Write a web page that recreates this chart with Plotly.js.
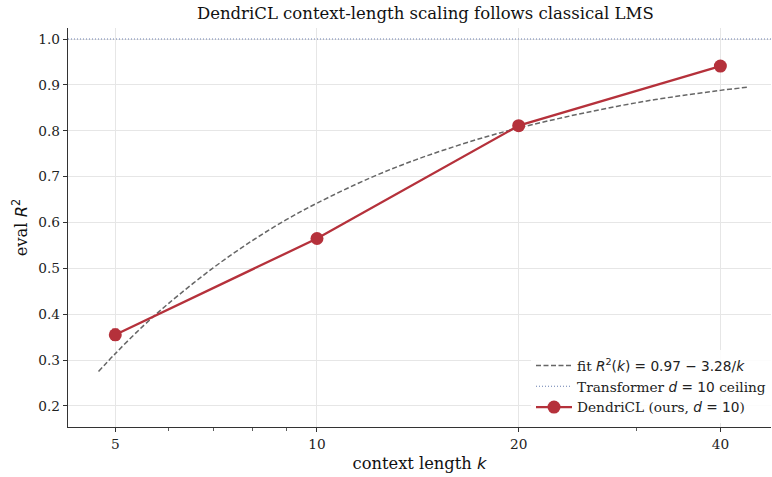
<!DOCTYPE html>
<html>
<head>
<meta charset="utf-8">
<script src="https://cdn.plot.ly/plotly-3.0.1.min.js"></script>
<style>html,body{margin:0;padding:0;background:#fff}#chart{width:772px;height:477px}</style>
</head>
<body>
<div id="chart"></div>
<script>
// Measured DendriCL results
const contextK = [5, 10, 20, 40];
const evalR2 = [0.355, 0.565, 0.811, 0.941];
const evalR2Err = [0.012, 0.006, 0.006, 0.006];

// Fit curve R^2(k) = 0.97 - 3.28/k
const fitK = [4.72, 5, 5.5, 6, 7, 8, 9, 10, 12, 14, 16, 18, 20, 24, 28, 32, 36, 40, 44];
const fitR2 = [0.275, 0.314, 0.374, 0.423, 0.501, 0.560, 0.606, 0.642, 0.697, 0.736, 0.765, 0.788, 0.806, 0.833, 0.853, 0.868, 0.879, 0.888, 0.895];

// Transformer ceiling
const ceilingR2 = 1.0;

// Axis settings
const xTicks = [5, 10, 20, 40];
const xMinorTicks = [6, 7, 8, 9, 30];
const xSpan = [4.25, 47.6];
const yTicks = [0.2, 0.3, 0.4, 0.5, 0.6, 0.7, 0.8, 0.9, 1.0];
const yTickText = yTicks.map(v => v.toFixed(1));

const serif = "DejaVu Serif, serif";
const red = "#b5313b";

const traces = [
  {
    x: fitK, y: fitR2, mode: "lines", type: "scatter",
    name: 'fit <span style="font-family:DejaVu Sans"><i>R</i><sup>2</sup>(<i>k</i>) = 0.97 − 3.28/<i>k</i></span>',
    line: {color: "#666666", width: 1.5, dash: "5px,2.5px", shape: "spline", smoothing: 1},
    hoverinfo: "skip"
  },
  {
    x: xSpan, y: [ceilingR2, ceilingR2], mode: "lines", type: "scatter",
    name: 'Transformer <span style="font-family:DejaVu Sans"><i>d</i> = 10</span> ceiling',
    line: {color: "#6a7fb0", width: 1.1, dash: "1px,2px"},
    hoverinfo: "skip"
  },
  {
    x: contextK, y: evalR2, mode: "lines+markers", type: "scatter",
    name: 'DendriCL (ours, <span style="font-family:DejaVu Sans"><i>d</i> = 10</span>)',
    line: {color: red, width: 2.3},
    marker: {color: red, size: 13},
    error_y: {type: "data", array: evalR2Err, visible: true, color: red, thickness: 1.5, width: 3}
  }
];

const layout = {
  width: 772, height: 477,
  margin: {l: 68, r: 1, t: 28, b: 50},
  paper_bgcolor: "#ffffff", plot_bgcolor: "#ffffff",
  font: {family: serif, size: 13, color: "#222222"},
  title: {
    text: "DendriCL context-length scaling follows classical LMS",
    font: {family: serif, size: 16.5, color: "#111111"},
    x: 0.551, xanchor: "center", y: 0.972, yanchor: "middle"
  },
  showlegend: true,
  legend: {
    x: 1.0, y: 0.01, xanchor: "right", yanchor: "bottom",
    bgcolor: "rgba(255,255,255,0.85)", borderwidth: 0,
    font: {family: serif, size: 13.7, color: "#222222"},
    tracegroupgap: 0, itemwidth: 36
  },
  xaxis: {
    type: "log",
    range: [Math.log10(xSpan[0]), Math.log10(xSpan[1])],
    tickmode: "array", tickvals: xTicks, ticktext: xTicks.map(String),
    ticks: "outside", ticklen: 4, tickwidth: 1, tickcolor: "#333333",
    showline: true, linecolor: "#333333", linewidth: 1.3, mirror: false,
    showgrid: true, gridcolor: "#e6e6e6", gridwidth: 1, zeroline: false,
    tickfont: {family: serif, size: 13.7, color: "#222222"},
    minor: {tickvals: xMinorTicks, ticks: "outside", ticklen: 2.5, tickwidth: 0.8, tickcolor: "#333333", showgrid: false},
    title: {text: 'context length <span style="font-family:DejaVu Sans"><i>k</i></span>', font: {family: serif, size: 16.3, color: "#111111"}, standoff: 6}
  },
  yaxis: {
    range: [0.154, 1.024],
    tickmode: "array", tickvals: yTicks, ticktext: yTickText,
    ticks: "outside", ticklen: 4, tickwidth: 1, tickcolor: "#333333",
    showline: true, linecolor: "#333333", linewidth: 1.3, mirror: false,
    showgrid: true, gridcolor: "#e6e6e6", gridwidth: 1, zeroline: false,
    tickfont: {family: serif, size: 13.7, color: "#222222"},
    title: {text: 'eval <span style="font-family:DejaVu Sans"><i>R</i><sup>2</sup></span>', font: {family: serif, size: 16.3, color: "#111111"}, standoff: 6}
  }
};

Plotly.newPlot("chart", traces, layout, {displayModeBar: false, staticPlot: true});
</script>
</body>
</html>
